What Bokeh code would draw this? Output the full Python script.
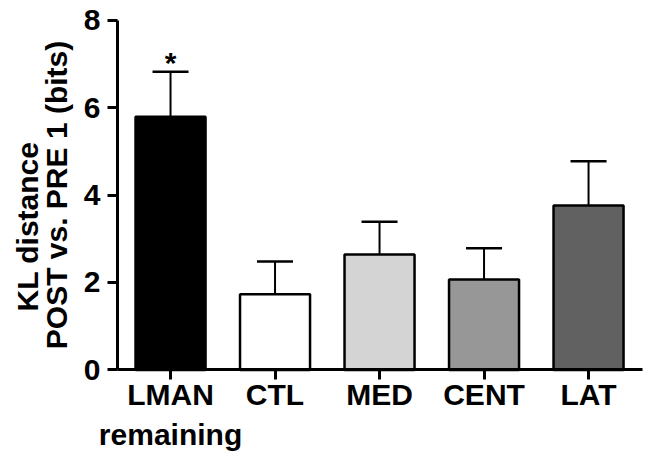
from bokeh.plotting import figure
from bokeh.models import (ColumnDataSource, FixedTicker, Whisker, TeeHead,
                          Range1d, LinearAxis)
from bokeh.core.properties import value
from bokeh.embed import file_html
from bokeh.resources import INLINE

categories = ["LMAN\nremaining", "CTL", "MED", "CENT", "LAT"]
means = [5.79, 1.73, 2.64, 2.07, 3.76]
errors = [1.03, 0.75, 0.75, 0.71, 1.01]
colors = ["#000000", "#ffffff", "#d4d4d4", "#979797", "#616161"]
y_ticks = [0, 2, 4, 6, 8]
sig_marks = ["*", "", "", "", ""]
sig_y = [7.03, 0, 0, 0, 0]

xs = list(range(len(categories)))
upper = [m + e for m, e in zip(means, errors)]

src = ColumnDataSource(dict(x=xs, top=means, upper=upper, color=colors,
                            mark=sig_marks, my=sig_y))

FONT = "Liberation Sans"
X_LO, X_HI = -0.507, 4.517   # extent of the drawn x axis line
Y_LO, Y_HI = 0, 8            # extent of the drawn y axis line

# The frame fills the whole canvas; axes are pinned at fixed locations so
# their labels can sit in the margin area without being clipped.
p = figure(width=645, height=452, output_backend="svg", toolbar_location=None,
           x_range=Range1d(-1.627, 4.545), y_range=Range1d(-1.886, 8.446),
           min_border_left=0, min_border_right=0, min_border_top=0,
           min_border_bottom=0)

p.vbar(x="x", top="top", bottom=0, width=0.67, fill_color="color",
       line_color="black", line_width=2.5, source=src)

wh = Whisker(base="x", lower="top", upper="upper", source=src,
             line_color="black", line_width=2,
             upper_head=TeeHead(size=36, line_color="black", line_width=2.5),
             lower_head=None)
p.add_layout(wh)

p.text(x="x", y="my", text="mark", source=src, text_align="center",
       text_baseline="alphabetic", text_font=value(FONT),
       text_font_size="30px", text_font_style="bold", text_color="black")

p.xgrid.visible = False
p.ygrid.visible = False
p.outline_line_color = None

p.xaxis.ticker = FixedTicker(ticks=xs)
p.xaxis.major_label_overrides = {i: c for i, c in enumerate(categories)}
p.xaxis.fixed_location = Y_LO
p.xaxis.bounds = (X_LO, X_HI)
p.yaxis.ticker = FixedTicker(ticks=y_ticks)
p.yaxis.fixed_location = X_LO
p.yaxis.bounds = (Y_LO, Y_HI)

for ax in (p.xaxis, p.yaxis):
    ax.axis_line_width = 3
    ax.axis_line_color = "black"
    ax.major_tick_line_width = 3
    ax.major_tick_line_color = "black"
    ax.major_tick_out = 10
    ax.major_tick_in = 0
    ax.minor_tick_line_color = None
    ax.major_label_text_font = FONT
    ax.major_label_text_font_style = "bold"
    ax.major_label_text_font_size = "30px"
    ax.major_label_text_color = "black"

p.xaxis.major_label_standoff = -2
p.xaxis.major_label_text_line_height = 1.2
p.yaxis.major_label_standoff = 7

p.yaxis.axis_label = "POST vs. PRE 1 (bits)"
p.yaxis.axis_label_text_font = FONT
p.yaxis.axis_label_text_font_style = "bold"
p.yaxis.axis_label_text_font_size = "30px"
p.yaxis.axis_label_text_color = "black"
p.yaxis.axis_label_standoff = 8

# first line of the y title, on its own label-only axis
ax2 = LinearAxis(ticker=FixedTicker(ticks=[]), fixed_location=X_LO,
                 axis_line_color=None, major_tick_line_color=None,
                 minor_tick_line_color=None, major_tick_out=0,
                 axis_label="KL distance", axis_label_text_font=FONT,
                 axis_label_text_font_style="bold",
                 axis_label_text_font_size="30px",
                 axis_label_text_color="black", axis_label_standoff=74)
p.add_layout(ax2, "left")

open("out.html", "w").write(file_html(p, INLINE))
